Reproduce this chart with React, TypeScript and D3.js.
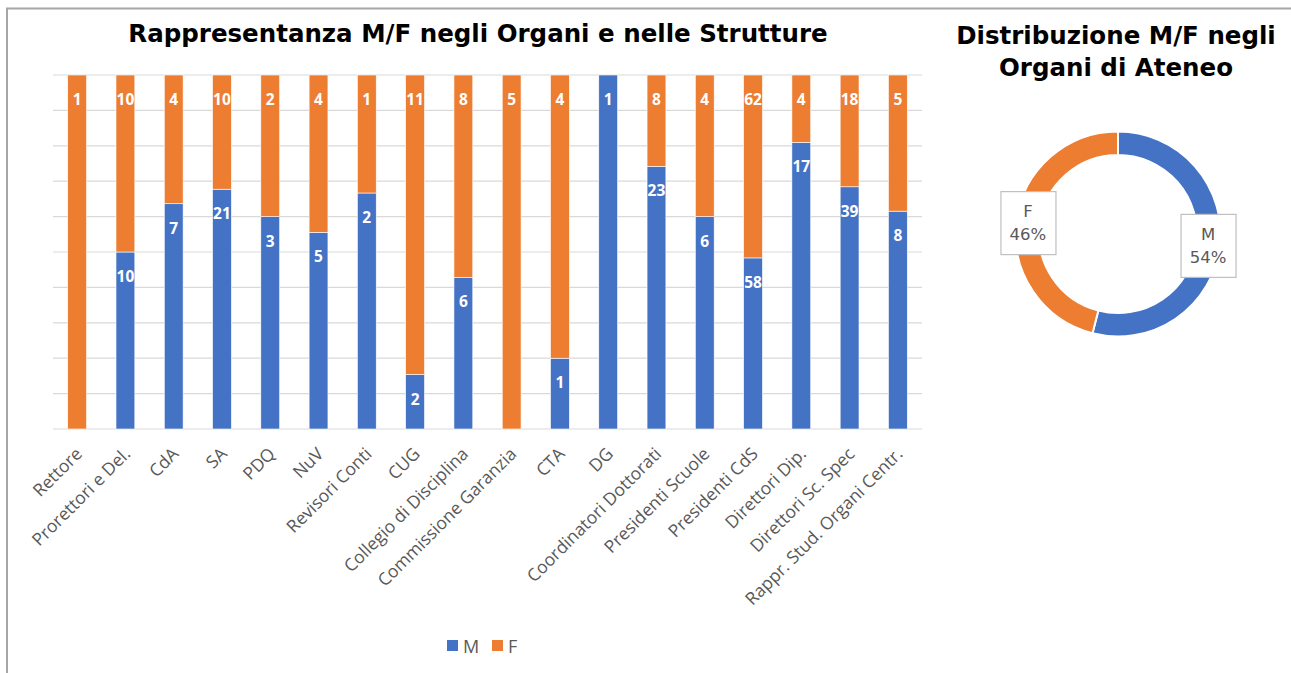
import React from "react";
import * as d3 from "d3";

const categories = [
  "Rettore", "Prorettori e Del.", "CdA", "SA", "PDQ", "NuV", "Revisori Conti", "CUG",
  "Collegio di Disciplina", "Commissione Garanzia", "CTA", "DG", "Coordinatori Dottorati",
  "Presidenti Scuole", "Presidenti CdS", "Direttori Dip.", "Direttori Sc. Spec", "Rappr. Stud. Organi Centr.",
];
const maleValues = [0, 10, 7, 21, 3, 5, 2, 2, 6, 0, 1, 1, 23, 6, 58, 17, 39, 8];
const femaleValues = [1, 10, 4, 10, 2, 4, 1, 11, 8, 5, 4, 0, 8, 4, 62, 4, 18, 5];
const yTicks = [0, 0.1, 0.2, 0.3, 0.4, 0.5, 0.6, 0.7, 0.8, 0.9, 1];

const donutLabels = ["M", "F"];
const donutValues = [54, 46];

const BLUE = "#4472C4";
const ORANGE = "#ED7D31";
const GRID = "#d9d9d9";
const TXT = "#595959";

export default function App() {
  const x = d3.scaleBand<string>().domain(categories).range([53, 922]).paddingInner(0.61).paddingOuter(0.305);
  const y = d3.scaleLinear().domain([0, 1]).range([429, 75]);
  const bw = x.bandwidth();

  const pie = d3.pie<number>().sort(null).value((d) => d)(donutValues);
  const rIn = 79, rOut = 102.5;
  const arc = d3.arc<d3.PieArcDatum<number>>().innerRadius(rIn).outerRadius(rOut);
  const cx = 1118, cy = 234;

  return (
    <svg width={1291} height={673} style={{ position: "absolute", left: 0, top: 0, background: "#fff" }}
      fontFamily="'DejaVu Sans', Verdana, sans-serif">
      <rect x={7} y={8.5} width={1300} height={700} fill="#fff" stroke="#a6a6a6" strokeWidth={2} />
      <text x={478} y={33} textAnchor="middle" dominantBaseline="central" fontWeight="bold" fontSize={24.5} fill="#000">
        Rappresentanza M/F negli Organi e nelle Strutture
      </text>
      {yTicks.map((t) => (
        <line key={t} x1={53} x2={922} y1={y(t)} y2={y(t)} stroke={GRID} strokeWidth={1.2} />
      ))}
      {categories.map((c, i) => {
        const m = maleValues[i], f = femaleValues[i];
        const tot = m + f;
        const mp = m / tot;
        const x0 = x(c)!;
        const xc = x0 + bw / 2;
        return (
          <g key={c}>
            {m > 0 && <rect x={x0} y={y(mp)} width={bw} height={y(0) - y(mp)} fill={BLUE} stroke="#fff" strokeWidth={0.6} />}
            {f > 0 && <rect x={x0} y={y(1)} width={bw} height={y(mp) - y(1)} fill={ORANGE} stroke="#fff" strokeWidth={0.6} />}
            {f > 0 && (
              <text x={xc} y={y(1) + 24} textAnchor="middle" dominantBaseline="central" fill="#fff" fontWeight="bold" fontSize={15.5}
                fontFamily="'Open Sans', sans-serif">{f}</text>
            )}
            {m > 0 && (
              <text x={xc} y={y(mp) + 24} textAnchor="middle" dominantBaseline="central" fill="#fff" fontWeight="bold" fontSize={15.5}
                fontFamily="'Open Sans', sans-serif">{m}</text>
            )}
            <text transform={`translate(${xc + 6},${455}) rotate(-45)`} textAnchor="end" fill={TXT} fontSize={17.5}
              fontFamily="'Open Sans', sans-serif">{c}</text>
          </g>
        );
      })}
      <g fontFamily="'Open Sans', sans-serif" fontSize={18} fill={TXT}>
        <rect x={447} y={640} width={11} height={11} fill={BLUE} />
        <text x={463} y={645.5} dominantBaseline="central">M</text>
        <rect x={492} y={640} width={11} height={11} fill={ORANGE} />
        <text x={508} y={645.5} dominantBaseline="central">F</text>
      </g>

      <text x={1116} y={35} textAnchor="middle" dominantBaseline="central" fontWeight="bold" fontSize={24.5} fill="#000">Distribuzione M/F negli</text>
      <text x={1116} y={67} textAnchor="middle" dominantBaseline="central" fontWeight="bold" fontSize={24.5} fill="#000">Organi di Ateneo</text>
      <g transform={`translate(${cx},${cy})`}>
        {pie.map((p, i) => (
          <path key={i} d={arc(p)!} fill={i === 0 ? BLUE : ORANGE} stroke="#fff" strokeWidth={2} />
        ))}
        {pie.map((p, i) => {
          const [lx, ly] = arc.centroid(p);
          const pct = Math.round((p.value / d3.sum(donutValues)) * 100);
          return (
            <g key={"l" + i} transform={`translate(${lx},${ly})`}>
              <rect x={-27} y={-31} width={55} height={63} fill="#fff" stroke="#bfbfbf" strokeWidth={1.2} />
              <text y={-11} textAnchor="middle" dominantBaseline="central" fontSize={16.5} fill={TXT}>{donutLabels[i]}</text>
              <text y={12} textAnchor="middle" dominantBaseline="central" fontSize={16.5} fill={TXT}>{pct}%</text>
            </g>
          );
        })}
      </g>
    </svg>
  );
}
